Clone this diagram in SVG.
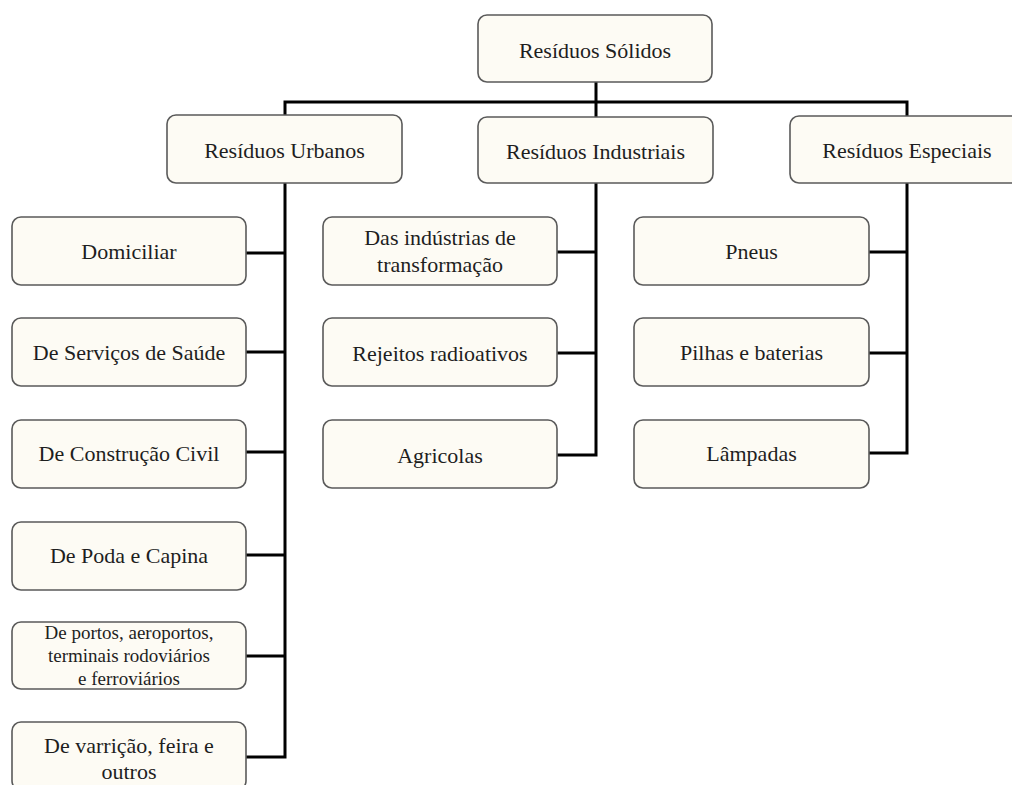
<svg xmlns="http://www.w3.org/2000/svg" width="1012" height="785" viewBox="0 0 1012 785">
<style>
.box{fill:#fdfbf4;stroke:#5a5a5a;stroke-width:1.6}
.t{font-family:'Liberation Serif','DejaVu Serif',Tinos,'Times New Roman',serif;font-size:22px;fill:#1e1e1e;text-anchor:middle}
.s{font-size:19px}
.c{stroke:#000;stroke-width:3;fill:none}
</style>
<rect width="1012" height="785" fill="#ffffff"/>
<g id="connectors">
<path class="c" d="M596,82V117M285,102H907M285,100.5V115M907,100.5V116"/>
<path class="c" d="M285,183V757M246,253H285M246,352H285M246,452H285M246,555H285M246,656H285M246,757H286.5"/>
<path class="c" d="M596,183V455M557,252H596M557,353H596M557,455H597.5"/>
<path class="c" d="M907,183V453M869,252H907M869,353H907M869,453H908.5"/>
</g>
<g font-family="Liberation Serif, serif">
<g id="n-solidos"><rect class="box" x="478" y="15" width="234" height="67" rx="9"/><text class="t" x="595" y="58">Resíduos Sólidos</text></g>
<g id="n-urbanos"><rect class="box" x="167" y="115" width="235" height="68" rx="9"/><text class="t" x="284.5" y="158">Resíduos Urbanos</text></g>
<g id="n-industriais"><rect class="box" x="478" y="117" width="235" height="66" rx="9"/><text class="t" x="595.5" y="159">Resíduos Industriais</text></g>
<g id="n-especiais"><rect class="box" x="790" y="116" width="235" height="67" rx="9"/><text class="t" x="907" y="158">Resíduos Especiais</text></g>
<g id="n-domiciliar"><rect class="box" x="12" y="217" width="234" height="68" rx="9"/><text class="t" x="129" y="259">Domiciliar</text></g>
<g id="n-saude"><rect class="box" x="12" y="318" width="234" height="68" rx="9"/><text class="t" x="129" y="360">De Serviços de Saúde</text></g>
<g id="n-construcao"><rect class="box" x="12" y="420" width="234" height="68" rx="9"/><text class="t" x="129" y="461">De Construção Civil</text></g>
<g id="n-poda"><rect class="box" x="12" y="522" width="234" height="68" rx="9"/><text class="t" x="129" y="563">De Poda e Capina</text></g>
<g id="n-portos"><rect class="box" x="12" y="622" width="234" height="67" rx="9"/><text class="t s" x="129" y="639">De portos, aeroportos,</text><text class="t s" x="129" y="662">terminais rodoviários</text><text class="t s" x="129" y="685">e ferroviários</text></g>
<g id="n-varricao"><rect class="box" x="12" y="722" width="234" height="68" rx="9"/><text class="t" x="129" y="753">De varrição, feira e</text><text class="t" x="129" y="779">outros</text></g>
<g id="n-transformacao"><rect class="box" x="323" y="217" width="234" height="68" rx="9"/><text class="t" x="440" y="245">Das indústrias de</text><text class="t" x="440" y="272">transformação</text></g>
<g id="n-radioativos"><rect class="box" x="323" y="318" width="234" height="68" rx="9"/><text class="t" x="440" y="361">Rejeitos radioativos</text></g>
<g id="n-agricolas"><rect class="box" x="323" y="420" width="234" height="68" rx="9"/><text class="t" x="440" y="463">Agricolas</text></g>
<g id="n-pneus"><rect class="box" x="634" y="217" width="235" height="68" rx="9"/><text class="t" x="751.5" y="259">Pneus</text></g>
<g id="n-pilhas"><rect class="box" x="634" y="318" width="235" height="68" rx="9"/><text class="t" x="751.5" y="360">Pilhas e baterias</text></g>
<g id="n-lampadas"><rect class="box" x="634" y="420" width="235" height="68" rx="9"/><text class="t" x="751.5" y="461">Lâmpadas</text></g>
</g>
</svg>
